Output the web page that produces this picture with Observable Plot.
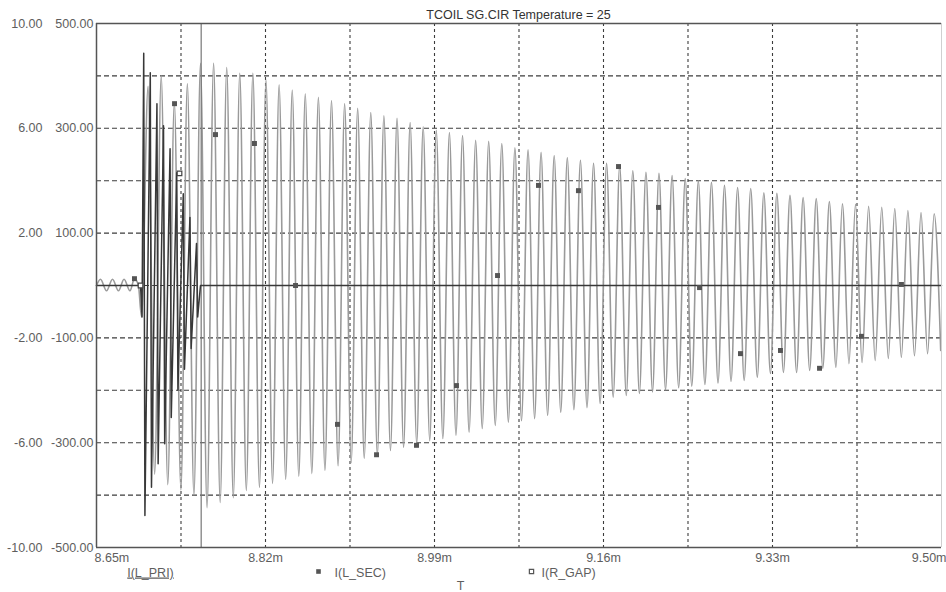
<!DOCTYPE html>
<html><head><meta charset="utf-8">
<script src="https://cdn.jsdelivr.net/npm/d3@7"></script>
<script src="https://cdn.jsdelivr.net/npm/@observablehq/plot@0.6"></script>
<style>
html,body{margin:0;padding:0;background:#fff;}
#chart svg{display:block;}
.pri-label text{text-decoration:underline;}
</style></head><body><div id="chart"></div>
<script>
// ---- text ----
const title = "TCOIL SG.CIR Temperature = 25";
const seriesNames = ["I(L_PRI)", "I(L_SEC)", "I(R_GAP)"];
const xAxisName = "T";

// ---- axes ----
const xTicks = [8.65, 8.82, 8.99, 9.16, 9.33, 9.50];
const xTickLabels = ["8.65m", "8.82m", "8.99m", "9.16m", "9.33m", "9.50m"];
const yTicks = [500, 300, 100, -100, -300, -500];
const yLabelsRight = ["500.00", "300.00", "100.00", "-100.00", "-300.00", "-500.00"];
const yLabelsLeft = ["10.00", "6.00", "2.00", "-2.00", "-6.00", "-10.00"];
const gridT = [8.735, 8.82, 8.905, 8.99, 9.075, 9.16, 9.245, 9.33, 9.415];
const gridI = [400, 300, 200, 100, 0, -100, -200, -300, -400];
const cursorT = [8.7553];

// ---- I(L_SEC) (grey) : small ringing before the gap fires ----
const secPreT = [8.6500, 8.6540, 8.6601, 8.6661, 8.6721, 8.6777, 8.6837, 8.6882, 8.6922, 8.6953];
const secPreI = [0, 12, -10, 12, -10, 12, -10, 13, 0, -60];

// ---- I(L_SEC) peaks ----
const secPeakT = [8.7019, 8.7151, 8.7283, 8.7414, 8.7546, 8.7678, 8.7810, 8.7941, 8.8073, 8.8205,
  8.8337, 8.8469, 8.8600, 8.8732, 8.8864, 8.8996, 8.9127, 8.9259, 8.9391, 8.9523,
  8.9655, 8.9786, 8.9918, 9.0050, 9.0182, 9.0314, 9.0445, 9.0577, 9.0709, 9.0841,
  9.0972, 9.1104, 9.1236, 9.1368, 9.1500, 9.1631, 9.1763, 9.1895, 9.2027, 9.2158,
  9.2290, 9.2422, 9.2554, 9.2686, 9.2817, 9.2949, 9.3081, 9.3213, 9.3344, 9.3476,
  9.3608, 9.3740, 9.3872, 9.4003, 9.4135, 9.4267, 9.4399, 9.4530, 9.4662, 9.4794, 9.4926];
const secPeakI = [380, 400, 350, 385, 424, 424, 416, 405, 405, 392,
  383, 373, 366, 359, 353, 347, 338, 330, 324, 319,
  311, 303, 296, 292, 286, 277, 275, 271, 263, 259,
  254, 248, 244, 239, 233, 233, 229, 219, 216, 214,
  210, 204, 200, 197, 191, 187, 185, 177, 176, 172,
  168, 166, 160, 156, 155, 151, 149, 147, 143, 139, 137];

// ---- I(L_SEC) troughs ----
const secTroughT = [8.7085, 8.7217, 8.7349, 8.7480, 8.7612, 8.7744, 8.7876, 8.8007, 8.8139, 8.8271,
  8.8403, 8.8535, 8.8666, 8.8798, 8.8930, 8.9062, 8.9193, 8.9325, 8.9457, 8.9589,
  8.9721, 8.9852, 8.9984, 9.0116, 9.0248, 9.0380, 9.0511, 9.0643, 9.0775, 9.0907,
  9.1038, 9.1170, 9.1302, 9.1434, 9.1566, 9.1697, 9.1829, 9.1961, 9.2093, 9.2224,
  9.2356, 9.2488, 9.2620, 9.2752, 9.2883, 9.3015, 9.3147, 9.3279, 9.3410, 9.3542,
  9.3674, 9.3806, 9.3938, 9.4069, 9.4201, 9.4333, 9.4465, 9.4596, 9.4728, 9.4860, 9.4992];
const secTroughI = [-360, -380, -390, -400, -424, -414, -405, -391, -385, -378,
  -370, -364, -359, -353, -344, -338, -330, -324, -315, -309,
  -302, -296, -292, -286, -280, -273, -267, -261, -258, -254,
  -248, -242, -237, -233, -225, -213, -210, -206, -203, -199,
  -195, -192, -189, -186, -183, -181, -175, -168, -166, -166,
  -162, -158, -156, -149, -147, -143, -139, -137, -134, -130, -124];

// ---- I(L_SEC) markers ----
const secMarkT = [8.6882, 8.7285, 8.7697, 8.8089, 8.8502, 8.8924, 8.9317, 8.9719, 9.0121, 9.0534,
  9.0946, 9.1348, 9.1751, 9.2153, 9.2566, 9.2978, 9.3380, 9.3773, 9.4195, 9.4597];
const secMarkI = [13, 347, 288, 271, 0, -265, -323, -305, -191, 19,
  191, 181, 227, 149, -4, -130, -124, -158, -97, 2];

// ---- I(L_PRI) / I(R_GAP) (dark) : burst, then quenched at zero ----
const priT = [8.6500, 8.6943, 8.6958, 8.6975, 8.6987, 8.7041, 8.7053, 8.7108, 8.7120, 8.7174, 8.7186,
  8.7240, 8.7252, 8.7307, 8.7319, 8.7373, 8.7385, 8.7440, 8.7452, 8.7506, 8.7518, 8.7546, 9.5000];
const priI = [0, 0, -60, 443, -439, 406, -385, 347, -340, 305, -302,
  261, -252, 215, -200, 175, -160, 130, -120, 80, -60, 0, 0];

// ---- I(R_GAP) markers ----
const gapMarkT = [8.6943, 8.7335];
const gapMarkI = [0, 214];

// ---- build tables ----
const secData = secPreT.map((t, i) => ({t, v: secPreI[i]}));
secPeakT.forEach((t, k) => {
  secData.push({t, v: secPeakI[k]});
  secData.push({t: secTroughT[k], v: secTroughI[k]});
});
const priData = priT.map((t, i) => ({t, v: priI[i]}));
const secMarks = secMarkT.map((t, i) => ({t, v: secMarkI[i]}));
const gapMarks = gapMarkT.map((t, i) => ({t, v: gapMarkI[i]}));
const xTickData = xTicks.map((t, i) => ({t, label: xTickLabels[i]}));
const yTickData = yTicks.map((v, i) => ({v, right: yLabelsRight[i], left: yLabelsLeft[i]}));

const font = "Liberation Sans, Arial, sans-serif";
const labelColor = "#5e5e5e";
const fs = 12.5;
const xLo = xTicks[0], xHi = xTicks[xTicks.length - 1];
const yLo = yTicks[yTicks.length - 1], yHi = yTicks[0];

const chart = Plot.plot({
  width: 946, height: 592,
  marginTop: 23, marginRight: 5, marginBottom: 45, marginLeft: 96,
  x: {domain: [xLo, xHi], axis: null},
  y: {domain: [yLo, yHi], axis: null},
  style: {background: "#fff", fontFamily: font},
  marks: [
    Plot.ruleX(gridT, {stroke: "#3c3c3c", strokeWidth: 1.1, strokeDasharray: "3,3"}),
    Plot.ruleY(gridI, {stroke: "#3c3c3c", strokeWidth: 1.1, strokeDasharray: "5,3"}),
    Plot.line(secData, {x: "t", y: "v", stroke: "#9a9a9a", strokeWidth: 1.6, curve: "monotone-x"}),
    Plot.ruleX(cursorT, {stroke: "#777", strokeWidth: 1.2}),
    Plot.line(priData, {x: "t", y: "v", stroke: "#383838", strokeWidth: 1.5}),
    Plot.dot(secMarks, {x: "t", y: "v", symbol: "square", r: 2.8, fill: "#555", stroke: "none"}),
    Plot.dot(gapMarks, {x: "t", y: "v", symbol: "square", r: 2.6, fill: "#fff", stroke: "#444", strokeWidth: 1.2}),
    // frame
    Plot.ruleX([xHi], {stroke: "#d0d0d0", strokeWidth: 1}),
    Plot.ruleX([xLo], {stroke: "#555", strokeWidth: 1.5}),
    Plot.ruleY([yHi, yLo], {stroke: "#555", strokeWidth: 1.5}),
    // y labels (two columns)
    Plot.text(yTickData, {x: xLo, y: "v", text: "right", dx: -3, textAnchor: "end", fill: labelColor, fontSize: fs, fontFamily: font}),
    Plot.text(yTickData, {x: xLo, y: "v", text: "left", dx: -54, textAnchor: "end", fill: labelColor, fontSize: fs, fontFamily: font}),
    // x labels
    Plot.text(xTickData.slice(0, 1), {x: "t", y: yLo, text: "label", dy: 10, dx: -2, textAnchor: "start", fill: labelColor, fontSize: fs, fontFamily: font}),
    Plot.text(xTickData.slice(1, -1), {x: "t", y: yLo, text: "label", dy: 10, textAnchor: "middle", fill: labelColor, fontSize: fs, fontFamily: font}),
    Plot.text(xTickData.slice(-1), {x: "t", y: yLo, text: "label", dy: 10, dx: 5, textAnchor: "end", fill: labelColor, fontSize: fs, fontFamily: font}),
    // title
    Plot.text([title], {frameAnchor: "top-left", dx: 422, dy: -8.5, text: d => d, textAnchor: "middle", lineAnchor: "middle", fill: "#333", fontSize: fs, fontFamily: font}),
    // legend
    Plot.text([seriesNames[0]], {frameAnchor: "bottom-left", dx: 54, dy: 25, text: d => d, textAnchor: "middle", lineAnchor: "middle", fill: labelColor, fontSize: fs, fontFamily: font, className: "pri-label"}),
    Plot.dot([seriesNames[1]], {frameAnchor: "bottom-left", dx: 222, dy: 24, symbol: "square", r: 2.6, fill: "#555", stroke: "none"}),
    Plot.text([seriesNames[1]], {frameAnchor: "bottom-left", dx: 238, dy: 25, text: d => d, textAnchor: "start", lineAnchor: "middle", fill: labelColor, fontSize: fs, fontFamily: font}),
    Plot.dot([seriesNames[2]], {frameAnchor: "bottom-left", dx: 435, dy: 24, symbol: "square", r: 2.4, fill: "#fff", stroke: "#555", strokeWidth: 1.2}),
    Plot.text([seriesNames[2]], {frameAnchor: "bottom-left", dx: 445, dy: 25, text: d => d, textAnchor: "start", lineAnchor: "middle", fill: labelColor, fontSize: fs, fontFamily: font}),
    Plot.text([xAxisName], {frameAnchor: "bottom-left", dx: 364, dy: 38, text: d => d, textAnchor: "middle", lineAnchor: "middle", fill: labelColor, fontSize: fs, fontFamily: font})
  ]
});
document.getElementById("chart").appendChild(chart);
</script>
</body></html>
